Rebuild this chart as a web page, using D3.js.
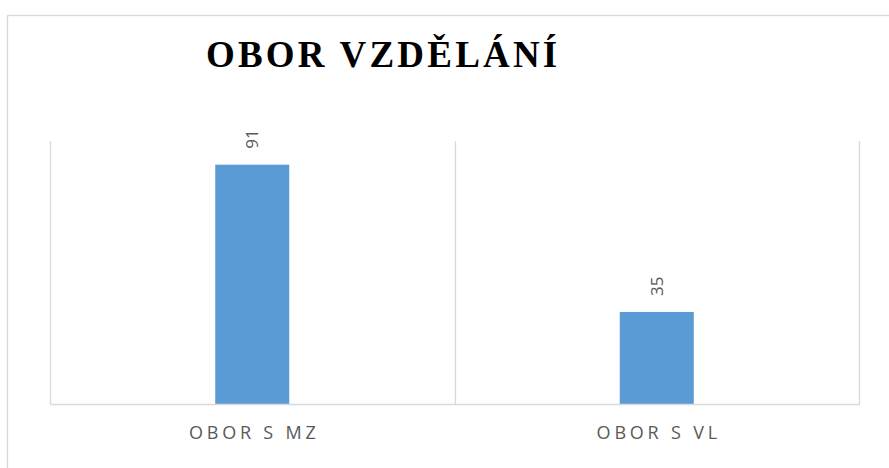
<!DOCTYPE html>
<html>
<head>
<meta charset="utf-8">
<script src="https://cdn.jsdelivr.net/npm/d3@7"></script>
<style>
  body { margin: 0; background: #fff; }
  svg { display: block; }
</style>
</head>
<body>
<div id="chart"></div>
<script>
// chart data
var categories = ["OBOR S MZ", "OBOR S VL"];
var values = [91, 35];
var title = "OBOR VZDĚLÁNÍ";

var width = 889, height = 468;
var plot = { left: 50, right: 859, top: 141, bottom: 404 };

var svg = d3.select("#chart")
	.append("svg")
	.attr("width", width)
	.attr("height", height);

// outer frame (runs off the right and bottom edge)
svg.append("rect")
	.attr("x", 7.5)
	.attr("y", 15.5)
	.attr("width", 900)
	.attr("height", 500)
	.style("fill", "none")
	.style("stroke", "#d9d9d9")
	.style("stroke-width", 1.3);

svg.append("text")
	.attr("x", 206)
	.attr("y", 67)
	.style("font-family", "'Liberation Serif', 'DejaVu Serif', serif")
	.style("font-weight", "bold")
	.style("font-size", "37px")
	.style("letter-spacing", "3.2px")
	.style("fill", "#000")
	.text(title);

var x = d3.scaleBand()
	.domain(categories)
	.range([plot.left, plot.right])
	.padding(0);

var y = d3.scaleLinear()
	.domain([0, 100])
	.range([plot.bottom, plot.top]);

// vertical gridlines at band edges
var edges = categories.map(function(c) { return x(c); }).concat([plot.right]);
svg.selectAll(".grid")
	.data(edges)
	.enter().append("line")
	.attr("class", "grid")
	.attr("x1", function(d) { return Math.round(d) + 0.5; })
	.attr("x2", function(d) { return Math.round(d) + 0.5; })
	.attr("y1", plot.top)
	.attr("y2", plot.bottom)
	.style("stroke", "#d9d9d9")
	.style("stroke-width", 1.3);

var barW = x.bandwidth() * 0.183;

svg.selectAll(".bar")
	.data(values)
	.enter().append("rect")
	.attr("class", "bar")
	.attr("x", function(d, i) { return x(categories[i]) + x.bandwidth() / 2 - barW / 2; })
	.attr("y", function(d) { return y(d); })
	.attr("width", barW)
	.attr("height", function(d) { return y(0) - y(d); })
	.style("fill", "#5b9bd5");

// axis line
svg.append("line")
	.attr("x1", plot.left)
	.attr("x2", plot.right + 1)
	.attr("y1", plot.bottom + 0.5)
	.attr("y2", plot.bottom + 0.5)
	.style("stroke", "#d9d9d9")
	.style("stroke-width", 1.5);

// value labels, rotated
svg.selectAll(".val")
	.data(values)
	.enter().append("text")
	.attr("class", "val")
	.attr("transform", function(d, i) {
		var cx = x(categories[i]) + x.bandwidth() / 2;
		return "translate(" + (cx + 6) + "," + (y(d) - 16) + ") rotate(-90)";
	})
	.style("font-family", "'Open Sans', sans-serif")
	.style("font-size", "17px")
	.style("fill", "#595959")
	.text(function(d) { return d; });

// category labels
svg.selectAll(".cat")
	.data(categories)
	.enter().append("text")
	.attr("class", "cat")
	.attr("x", function(d) { return x(d) + x.bandwidth() / 2 + 2; })
	.attr("y", 439)
	.attr("text-anchor", "middle")
	.style("font-family", "'Open Sans', sans-serif")
	.style("font-size", "18px")
	.style("letter-spacing", "3.8px")
	.style("fill", "#595959")
	.text(function(d) { return d; });
</script>
</body>
</html>
